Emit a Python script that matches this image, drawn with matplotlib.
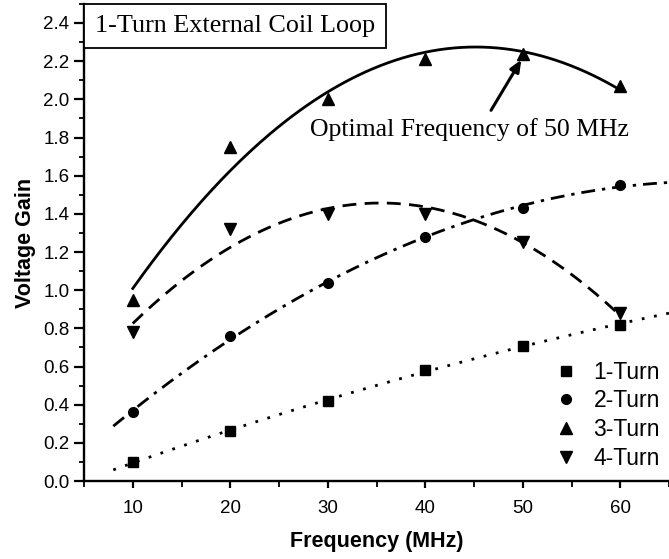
import numpy as np
import matplotlib
matplotlib.use("Agg")
import matplotlib.pyplot as plt
from matplotlib.offsetbox import AnchoredText
from matplotlib.ticker import MultipleLocator

freq = [10, 20, 30, 40, 50, 60]
turn1 = [0.10, 0.26, 0.42, 0.58, 0.71, 0.82]
turn2 = [0.36, 0.76, 1.04, 1.28, 1.43, 1.55]
turn3 = [0.95, 1.75, 2.00, 2.21, 2.24, 2.07]
turn4 = [0.78, 1.32, 1.40, 1.40, 1.25, 0.88]
labels = ["1-Turn", "2-Turn", "3-Turn", "4-Turn"]

plt.rcParams['font.family'] = ['Liberation Sans', 'DejaVu Sans']
fig = plt.figure(figsize=(6.69, 5.59), dpi=100)
ax = fig.add_axes([0.1256, 0.1395, 0.8744, 0.8535])

series = [turn1, turn2, turn3, turn4]
markers = ['s', 'o', '^', 'v']
msizes = [6.5, 7, 8, 8]
styles = [(0, (1, 3.5)), (0, (5, 2.5, 1.2, 2.5)), '-', (0, (5, 3))]
fit_ranges = [(8, 66), (8, 66), (10, 60), (10, 60)]

for y, m, ms, ls, (a, b), lab in zip(series, markers, msizes, styles, fit_ranges, labels):
    coef = np.polyfit(freq, y, 2)
    xf = np.linspace(a, b, 200)
    ax.plot(xf, np.polyval(coef, xf), color='black', lw=2.0, ls=ls, zorder=2)
    ax.plot(freq, y, ls='none', marker=m, ms=ms, color='black', label=lab, zorder=3)

ax.set_xlim(5, 65)
ax.set_ylim(0, 2.5)
ax.xaxis.set_minor_locator(MultipleLocator(5))
ax.yaxis.set_minor_locator(MultipleLocator(0.1))
ax.set_yticks(np.arange(0, 2.41, 0.2))
ax.yaxis.set_major_formatter(matplotlib.ticker.FormatStrFormatter('%.1f'))
ax.set_xticks([10, 20, 30, 40, 50, 60])
for s in ['top', 'right']:
    ax.spines[s].set_visible(False)
for s in ['left', 'bottom']:
    ax.spines[s].set_linewidth(1.7)
ax.tick_params(axis='y', which='major', direction='out', length=7, width=1.6, labelsize=13.5, pad=3.5)
ax.tick_params(axis='y', which='minor', direction='out', length=3.8, width=1.3)
ax.tick_params(axis='x', which='major', direction='out', length=5, width=1.6, labelsize=13.5, pad=9)
ax.tick_params(axis='x', which='minor', direction='out', length=4, width=1.3)
ax.set_xlabel('Frequency (MHz)', fontsize=15.5, fontweight='bold', labelpad=10)
ax.set_ylabel('Voltage Gain', fontsize=15.5, fontweight='bold', labelpad=5)

at = AnchoredText('1-Turn External Coil Loop', loc='upper left', borderpad=0, pad=0.42,
                  prop=dict(size=18.8, family='Liberation Serif'), frameon=True)
at.patch.set_linewidth(1.3)
at.patch.set_boxstyle('square,pad=0')
ax.add_artist(at)

ax.annotate('', xy=(50, 2.22), xytext=(46.6, 1.93),
            arrowprops=dict(arrowstyle='-|>,head_length=0.7,head_width=0.3', color='black', lw=2.2))
ax.text(44.5, 1.84, 'Optimal Frequency of 50 MHz', fontsize=18.5, family='Liberation Serif',
        ha='center', va='center')

leg = ax.legend(loc='lower right', frameon=False, fontsize=16.5, handletextpad=0.6,
                labelspacing=0.26, handlelength=1.2, bbox_to_anchor=(1.02, -0.021))

fig.savefig('out.png', dpi=100)
